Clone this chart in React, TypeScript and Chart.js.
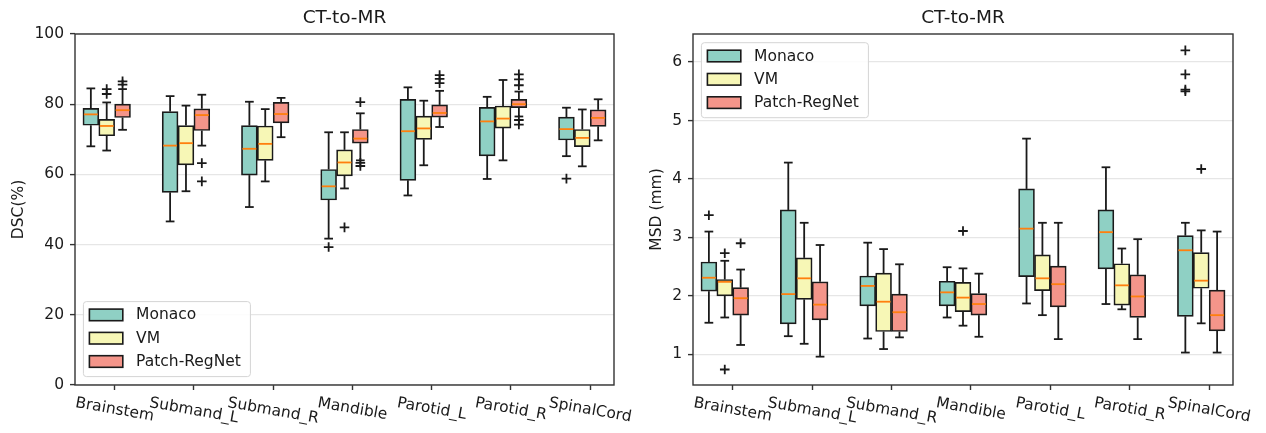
import React, { useEffect, useRef } from 'react';
import { Chart, registerables } from 'chart.js';

Chart.register(...registerables);

// ---------------- data ----------------
const categories = ['Brainstem', 'Submand_L', 'Submand_R', 'Mandible', 'Parotid_L', 'Parotid_R', 'SpinalCord'];
const methods = ['Monaco', 'VM', 'Patch-RegNet'];
const xTicks = [0, 1, 2, 3, 4, 5, 6];

// each entry: [whiskerLow, q1, median, q3, whiskerHigh]
const dscMonaco = [
  [68.0, 74.0, 77.1, 78.8, 84.5],
  [46.6, 54.9, 68.2, 77.9, 82.3],
  [50.7, 59.8, 67.3, 73.9, 80.7],
  [41.7, 52.7, 56.6, 61.4, 72.0],
  [54.0, 58.3, 72.3, 81.4, 84.8],
  [58.7, 65.3, 75.1, 79.1, 82.1],
  [65.2, 69.8, 72.9, 76.3, 79.0],
];
const dscVM = [
  [66.8, 71.0, 73.8, 75.7, 80.5],
  [55.2, 62.7, 68.9, 73.9, 79.6],
  [58.0, 64.0, 68.7, 73.8, 78.6],
  [56.0, 59.6, 63.4, 67.0, 72.0],
  [62.6, 70.0, 73.1, 76.6, 81.0],
  [64.0, 73.2, 75.9, 79.5, 86.9],
  [62.3, 67.9, 70.4, 72.8, 78.5],
];
const dscPatch = [
  [72.7, 76.2, 78.3, 80.0, 84.3],
  [68.2, 72.5, 76.9, 78.7, 82.7],
  [70.6, 74.7, 77.2, 80.5, 81.8],
  [64.0, 68.9, 70.2, 72.8, 77.4],
  [73.5, 76.3, 77.5, 79.8, 83.8],
  [76.5, 79.0, 80.0, 81.4, 83.6],
  [69.7, 73.7, 76.1, 78.4, 81.4],
];
const dscMonacoOut = [[], [], [], [39.3], [], [], [58.8]];
const dscVMOut = [[84.3, 82.9], [], [], [44.9], [], [], []];
const dscPatchOut = [[86.5, 85.6], [63.2, 58.0], [], [80.6, 63.3, 62.4], [88.3, 87.2, 86.0], [88.5, 87.1, 85.4, 75.5, 74.2], []];

const msdMonaco = [
  [1.54, 2.08, 2.31, 2.58, 3.10],
  [1.31, 1.52, 2.03, 3.47, 4.28],
  [1.27, 1.83, 2.17, 2.34, 2.91],
  [1.63, 1.83, 2.06, 2.25, 2.49],
  [1.87, 2.33, 3.15, 3.83, 4.69],
  [1.86, 2.46, 3.09, 3.47, 4.20],
  [1.03, 1.65, 2.78, 3.03, 3.25],
];
const msdVM = [
  [1.63, 2.00, 2.24, 2.28, 2.60],
  [1.18, 1.94, 2.30, 2.65, 3.25],
  [1.09, 1.39, 1.90, 2.39, 2.80],
  [1.49, 1.73, 1.97, 2.23, 2.47],
  [1.67, 2.09, 2.30, 2.70, 3.25],
  [1.77, 1.84, 2.18, 2.55, 2.81],
  [1.53, 2.13, 2.26, 2.74, 3.12],
];
const msdPatch = [
  [1.16, 1.67, 1.96, 2.14, 2.45],
  [0.96, 1.59, 1.85, 2.24, 2.87],
  [1.29, 1.39, 1.72, 2.03, 2.54],
  [1.30, 1.67, 1.86, 2.04, 2.38],
  [1.26, 1.81, 2.20, 2.51, 3.25],
  [1.26, 1.63, 1.99, 2.36, 2.97],
  [1.03, 1.40, 1.67, 2.10, 3.10],
];
const msdMonacoOut = [[3.38], [], [], [], [], [], [6.20, 5.79, 5.53, 5.50]];
const msdVMOut = [[2.73, 0.74], [], [], [3.11], [], [], [4.17]];
const msdPatchOut = [[2.90], [], [], [], [], [], []];

const dscTicks = [0, 20, 40, 60, 80, 100];
const msdTicks = [1, 2, 3, 4, 5, 6];

// ---------------- styles ----------------
const boxColors = ['#8fd0c4', '#f7f7b6', '#f4958a'];
const offsets = [-0.3, -0.1, 0.1];
const halfBox = 0.1;
const halfCap = 0.055;
const FONT = '"DejaVu Sans", "Liberation Sans", sans-serif';
const INK = '#1a1a1a';

type PanelCfg = {
  title: string;
  yLabel: string;
  stats: number[][][];
  outliers: number[][][];
  yMin: number;
  yMax: number;
  yTicks: number[];
  legendAtTop: boolean;
  yWidth: number;
  padRight: number;
  yLabelX: number;
};

const panels: PanelCfg[] = [
  {
    title: 'CT-to-MR',
    yLabel: 'DSC(%)',
    stats: [dscMonaco, dscVM, dscPatch],
    outliers: [dscMonacoOut, dscVMOut, dscPatchOut],
    yMin: 0,
    yMax: 100,
    yTicks: dscTicks,
    legendAtTop: false,
    yWidth: 75,
    padRight: 19,
    yLabelX: 18.5,
  },
  {
    title: 'CT-to-MR',
    yLabel: 'MSD (mm)',
    stats: [msdMonaco, msdVM, msdPatch],
    outliers: [msdMonacoOut, msdVMOut, msdPatchOut],
    yMin: 0.475,
    yMax: 6.48,
    yTicks: msdTicks,
    legendAtTop: true,
    yWidth: 60,
    padRight: 33,
    yLabelX: 23.5,
  },
];

function line(ctx: CanvasRenderingContext2D, x0: number, y0: number, x1: number, y1: number) {
  ctx.beginPath();
  ctx.moveTo(x0, y0);
  ctx.lineTo(x1, y1);
  ctx.stroke();
}

function makePlugin(cfg: PanelCfg) {
  return {
    id: 'boxDecor',
    afterDatasetsDraw(chart: any) {
      const ctx: CanvasRenderingContext2D = chart.ctx;
      const xs = chart.scales.x;
      const ys = chart.scales.y;
      ctx.save();
      ctx.lineCap = 'butt';
      cfg.stats.forEach((series, i) => {
        series.forEach((s, j) => {
          const xc = j + offsets[i];
          const px = xs.getPixelForValue(xc);
          const cl = xs.getPixelForValue(xc - halfCap);
          const cr = xs.getPixelForValue(xc + halfCap);
          ctx.strokeStyle = INK;
          ctx.lineWidth = 1.8;
          line(ctx, px, ys.getPixelForValue(s[3]), px, ys.getPixelForValue(s[4]));
          line(ctx, cl, ys.getPixelForValue(s[4]), cr, ys.getPixelForValue(s[4]));
          line(ctx, px, ys.getPixelForValue(s[1]), px, ys.getPixelForValue(s[0]));
          line(ctx, cl, ys.getPixelForValue(s[0]), cr, ys.getPixelForValue(s[0]));
          ctx.strokeStyle = '#ff7f0e';
          ctx.lineWidth = 1.8;
          const bl = xs.getPixelForValue(xc - halfBox) + 1;
          const br = xs.getPixelForValue(xc + halfBox) - 1;
          const my = ys.getPixelForValue(s[2]);
          line(ctx, bl, my, br, my);
        });
      });
      ctx.restore();
    },
    afterDraw(chart: any) {
      const ctx: CanvasRenderingContext2D = chart.ctx;
      const xs = chart.scales.x;
      const a = chart.chartArea;
      ctx.save();
      ctx.strokeStyle = '#333';
      ctx.lineWidth = 1.4;
      ctx.strokeRect(a.left, a.top, a.right - a.left, a.bottom - a.top);

      ctx.fillStyle = INK;
      ctx.font = `18.5px ${FONT}`;
      ctx.textAlign = 'center';
      ctx.textBaseline = 'middle';
      ctx.fillText(cfg.title, (a.left + a.right) / 2, 18);

      ctx.font = `15.5px ${FONT}`;
      ctx.save();
      ctx.translate(cfg.yLabelX, (a.top + a.bottom) / 2);
      ctx.rotate(-Math.PI / 2);
      ctx.fillText(cfg.yLabel, 0, 0);
      ctx.restore();

      const ang = (10 * Math.PI) / 180;
      const fs = 15.5;
      ctx.font = `${fs}px ${FONT}`;
      categories.forEach((c, j) => {
        const px = xs.getPixelForValue(xTicks[j]);
        const w = ctx.measureText(c).width;
        const h = fs * 1.17;
        const bh = w * Math.sin(ang) + h * Math.cos(ang);
        const cy = a.bottom + 9 + bh / 2;
        ctx.save();
        ctx.translate(px, cy);
        ctx.rotate(ang);
        ctx.textAlign = 'center';
        ctx.textBaseline = 'middle';
        ctx.fillText(c, 0, 0);
        ctx.restore();
      });

      const lw = 167;
      const lh = 75;
      const lx = a.left + 8.4;
      const ly = cfg.legendAtTop ? a.top + 8.7 : a.bottom - 8.4 - lh;
      ctx.beginPath();
      if ((ctx as any).roundRect) (ctx as any).roundRect(lx, ly, lw, lh, 3);
      else ctx.rect(lx, ly, lw, lh);
      ctx.fillStyle = 'rgba(255,255,255,0.85)';
      ctx.fill();
      ctx.strokeStyle = '#d4d4d4';
      ctx.lineWidth = 1;
      ctx.stroke();
      methods.forEach((m, i) => {
        const rowY = ly + 13.3 + i * 23.3;
        ctx.fillStyle = boxColors[i];
        ctx.fillRect(lx + 6, rowY - 5.8, 33.4, 11.6);
        ctx.strokeStyle = INK;
        ctx.lineWidth = 1.6;
        ctx.strokeRect(lx + 6, rowY - 5.8, 33.4, 11.6);
        ctx.fillStyle = INK;
        ctx.font = `15.5px ${FONT}`;
        ctx.textAlign = 'left';
        ctx.textBaseline = 'middle';
        ctx.fillText(m, lx + 52.7, rowY + 0.5);
      });
      ctx.restore();
    },
  };
}

function Panel({ cfg }: { cfg: PanelCfg }) {
  const ref = useRef<HTMLCanvasElement | null>(null);
  useEffect(() => {
    if (!ref.current) return;
    const bars = methods.map((m, i) => ({
      type: 'bar' as const,
      label: m,
      data: cfg.stats[i].map((s, j) => ({ x: xTicks[j] + offsets[i], y: [s[1], s[3]] })),
      backgroundColor: boxColors[i],
      borderColor: INK,
      borderWidth: 1.7,
      borderSkipped: false,
      grouped: false,
      barPercentage: 1,
      categoryPercentage: 1,
      order: 2,
    }));
    const outs = methods.map((m, i) => ({
      type: 'scatter' as const,
      label: m + ' outliers',
      data: cfg.outliers[i].flatMap((arr, j) => arr.map((v) => ({ x: xTicks[j] + offsets[i], y: v }))),
      pointStyle: 'cross',
      pointRadius: 4.8,
      pointHoverRadius: 4.8,
      borderColor: INK,
      backgroundColor: INK,
      borderWidth: 1.8,
      showLine: false,
      order: 1,
    }));
    const chart = new Chart(ref.current, {
      type: 'bar',
      data: { datasets: [...bars, ...outs] as any },
      options: {
        responsive: false,
        animation: false,
        events: [],
        layout: { padding: { left: 0, right: cfg.padRight, top: 34, bottom: 0 } },
        plugins: {
          legend: { display: false },
          title: { display: false },
          tooltip: { enabled: false },
        },
        scales: {
          x: {
            type: 'linear',
            offset: false,
            min: -0.5,
            max: 6.3,
            afterBuildTicks: (s: any) => {
              s.ticks = xTicks.map((v) => ({ value: v }));
            },
            afterFit: (s: any) => {
              s.height = 48;
            },
            ticks: { callback: () => '', autoSkip: false },
            grid: { offset: false, drawOnChartArea: false, drawTicks: true, tickLength: 5, tickColor: '#333', tickWidth: 1.4, color: '#333' },
            border: { display: false },
          },
          y: {
            type: 'linear',
            min: cfg.yMin,
            max: cfg.yMax,
            afterBuildTicks: (s: any) => {
              s.ticks = cfg.yTicks.map((v) => ({ value: v }));
            },
            afterFit: (s: any) => {
              s.width = cfg.yWidth;
            },
            ticks: {
              padding: 6,
              color: INK,
              font: { family: FONT, size: 15.5 },
              callback: (v: any) => String(v),
            },
            grid: { color: '#e6e6e6', lineWidth: 1.2, drawTicks: true, tickLength: 5, tickColor: '#333', tickWidth: 1.4 },
            border: { display: false },
          },
        },
      },
      plugins: [makePlugin(cfg)],
    } as any);
    return () => chart.destroy();
  }, [cfg]);
  return <canvas ref={ref} width={633} height={433} style={{ display: 'block' }} />;
}

export default function App() {
  return (
    <div style={{ position: 'absolute', left: 0, top: 0, width: 1266, height: 433, display: 'flex', background: '#fff' }}>
      <Panel cfg={panels[0]} />
      <Panel cfg={panels[1]} />
    </div>
  );
}
